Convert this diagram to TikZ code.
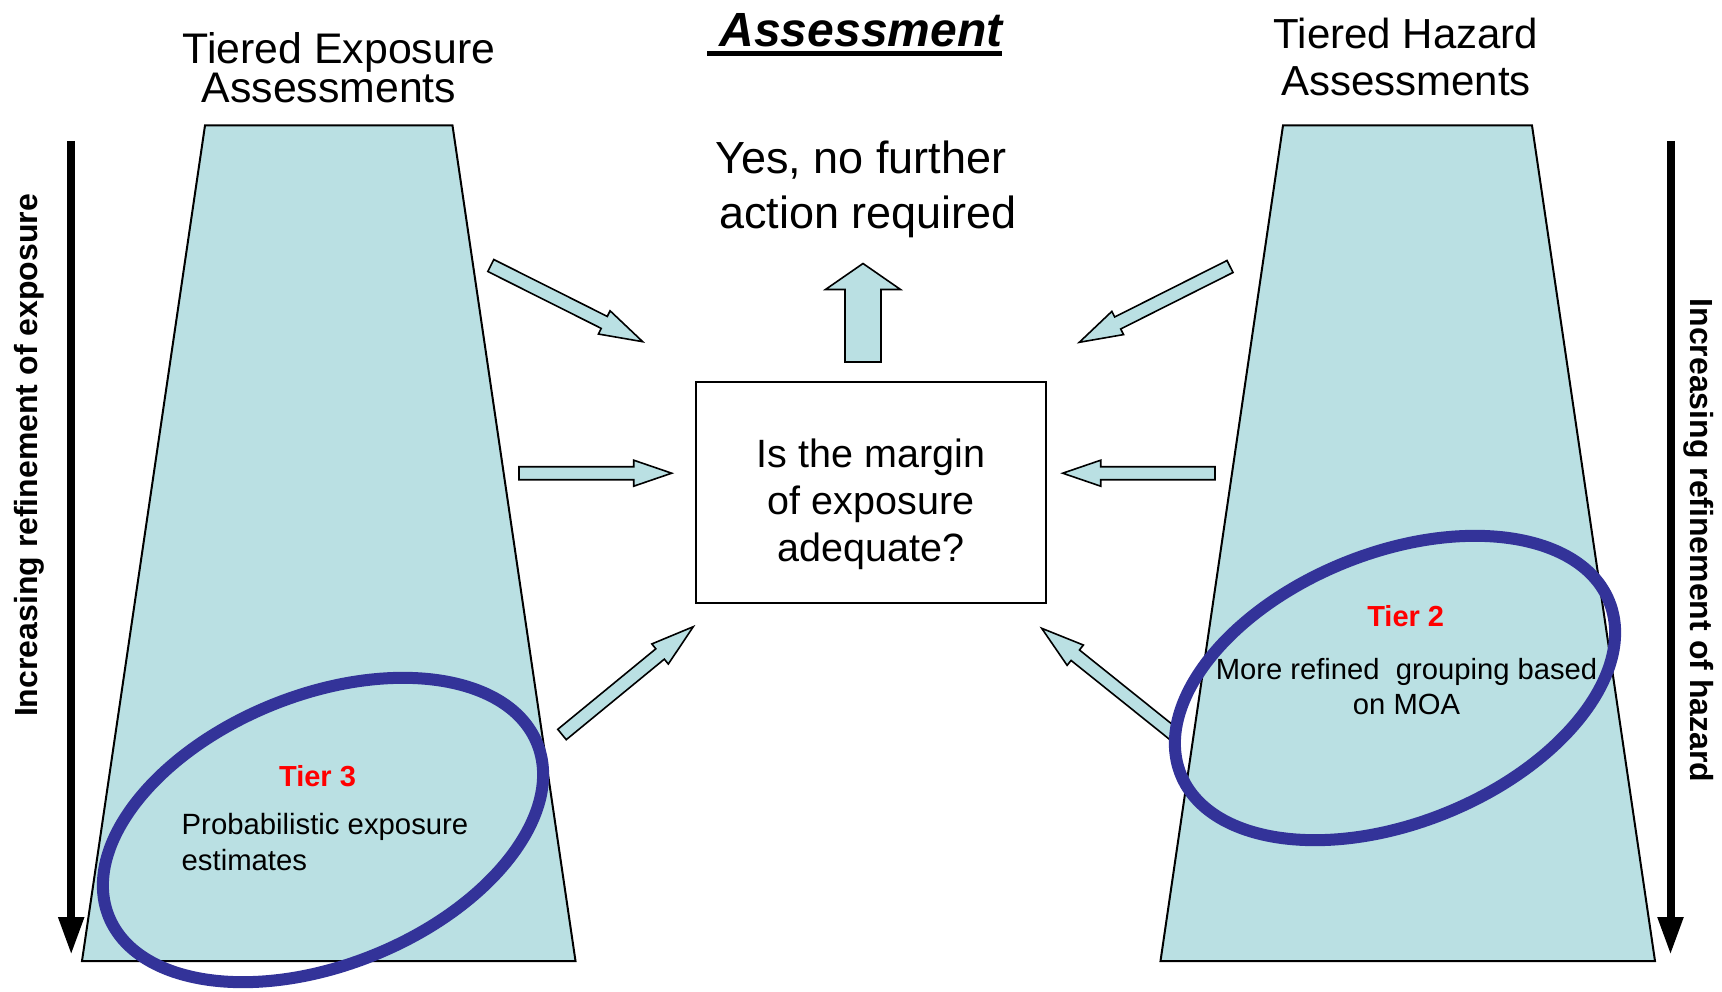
\documentclass[tikz,border=0pt]{standalone}
\usepackage{fontspec}
\setmainfont{Liberation Sans}
\usetikzlibrary{calc,arrows.meta}

\definecolor{tierfill}{RGB}{186,224,227}
\definecolor{ringblue}{RGB}{51,51,153}
\definecolor{tierred}{RGB}{255,0,0}

% Block arrow: #1 tail, #2 tip, #3 half shaft width, #4 half head width, #5 head length
\newcommand\blockarrow[5]{%
  \coordinate (ba-neck) at ($(#2)!#5!(#1)$);
  \draw[blockarrow] ($(#1)!#3!90:(#2)$) -- ($(ba-neck)!#3!90:(#2)$)
    -- ($(ba-neck)!#4!90:(#2)$) -- (#2) -- ($(ba-neck)!#4!-90:(#2)$)
    -- ($(ba-neck)!#3!-90:(#2)$) -- ($(#1)!#3!-90:(#2)$) -- cycle;}

\tikzset{
  tierbody/.style={fill=tierfill, draw=black, line width=2pt, line join=miter},
  blockarrow/.style={fill=tierfill, draw=black, line width=1.6pt, line join=miter},
  ring/.style={draw=ringblue, line width=12pt},
  refine/.style={line width=8pt, -{Triangle[width=24pt,length=38pt]}},
  refinelabel/.style={font=\fontsize{32}{38}\selectfont\bfseries, inner sep=0pt, anchor=base},
  heading/.style={font=\fontsize{42}{36.7}\selectfont, align=center, inner sep=0pt, anchor=north},
  tierlabel/.style={font=\fontsize{29}{35}\selectfont\bfseries, text=tierred, inner sep=0pt, anchor=base},
  tiertext/.style={font=\fontsize{29.2}{35}\selectfont, inner sep=0pt},
}

\begin{document}
\begin{tikzpicture}[x=1pt, y=-1pt]
\useasboundingbox[fill=white] (0,0) rectangle (1722,992);

% the two tier funnels
\draw[tierbody] (205,125.5) -- (452.5,125.5) -- (575.5,961) -- (82,961) -- cycle;
\draw[tierbody] (1283,125.5) -- (1532,125.5) -- (1655,961) -- (1160.5,961) -- cycle;

% refinement direction arrows
\coordinate (expo-top) at (71.2,141);
\coordinate (expo-bot) at (71.2,955);
\coordinate (haz-top) at (1670.5,141);
\coordinate (haz-bot) at (1670.5,955);
\draw[refine] (expo-top) -- (expo-bot);
\draw[refine] (haz-top) -- (haz-bot);
\node[refinelabel, rotate=90] (expo-label) at (37.3,455.5) {Increasing refinement of exposure};
\node[refinelabel, rotate=-90] (haz-label) at (1690,540.5) {Increasing refinement of hazard};

% headings
\node[font=\fontsize{48}{56}\selectfont\bfseries\itshape, inner sep=0pt, anchor=base] (title) at (861,46.7) {Assessment};
\draw[line width=5pt] (707,53.5) -- (1002,53.5);
\node[heading, font=\fontsize{42.8}{36.7}\selectfont, align=left, anchor=north west] (expo-head) at (182.5,32.2) {Tiered Exposure\\\hspace*{19pt}Assessments};
\node[heading, font=\fontsize{42}{46.7}\selectfont] (haz-head) at (1406,17.7) {Tiered Hazard\\Assessments};

% decision
\node[draw, line width=2pt, minimum width=349.5pt, minimum height=221pt, inner sep=0pt] (moe) at (870.8,492) {};
\node[font=\fontsize{39.5}{47.2}\selectfont, align=center, inner sep=0pt, anchor=north] (moe-q) at (871,438.2) {Is the margin\\of exposure\\adequate?};
\node[font=\fontsize{45}{55}\selectfont, align=left, inner sep=0pt, anchor=north west] (yes) at (715,140.5) {Yes, no further\\\hspace*{4pt}action required};

% block arrows into and out of the decision
\coordinate (ul-tail) at (490.8,265.5);  \coordinate (ul-tip) at (642.7,341.7);
\coordinate (ml-tail) at (519,473.2);    \coordinate (ml-tip) at (671.7,473.2);
\coordinate (ll-tail) at (562,734.5);    \coordinate (ll-tip) at (693.3,626.7);
\coordinate (ur-tail) at (1230,266.5);   \coordinate (ur-tip) at (1079.3,342.3);
\coordinate (mr-tail) at (1215,473.2);   \coordinate (mr-tip) at (1062.7,473.2);
\coordinate (lr-tail) at (1174.3,734.6); \coordinate (lr-tip) at (1041.7,628.3);
\coordinate (up-tail) at (863,362);      \coordinate (up-tip) at (863,263.5);
\blockarrow{ul-tail}{ul-tip}{6.7pt}{13pt}{43pt}
\blockarrow{ml-tail}{ml-tip}{6.5pt}{13pt}{38pt}
\blockarrow{ll-tail}{ll-tip}{6.7pt}{13pt}{43pt}
\blockarrow{ur-tail}{ur-tip}{6.7pt}{13pt}{43pt}
\blockarrow{mr-tail}{mr-tip}{6.5pt}{13pt}{38pt}
\blockarrow{lr-tail}{lr-tip}{6.7pt}{13pt}{43pt}
\blockarrow{up-tail}{up-tip}{18pt}{37.5pt}{26pt}

% highlighted tiers
\coordinate (ring3) at (323,830);
\coordinate (ring2) at (1395,688);
\draw[ring, rotate around={22:(ring3)}] (ring3) ellipse [x radius=231pt, y radius=135pt];
\draw[ring, rotate around={22:(ring2)}] (ring2) ellipse [x radius=231pt, y radius=135pt];

\node[tierlabel] (tier3) at (317.5,786.7) {Tier 3};
\node[tiertext, font=\fontsize{29.3}{36}\selectfont, align=left, anchor=north west] (tier3-text) at (181.5,812.6) {Probabilistic exposure\\estimates};
\node[tierlabel] (tier2) at (1405.7,626.7) {Tier 2};
\node[tiertext, align=center, anchor=north] (tier2-text) at (1406.5,658.6) {More refined\ \ grouping based\\on MOA};
\end{tikzpicture}
\end{document}
